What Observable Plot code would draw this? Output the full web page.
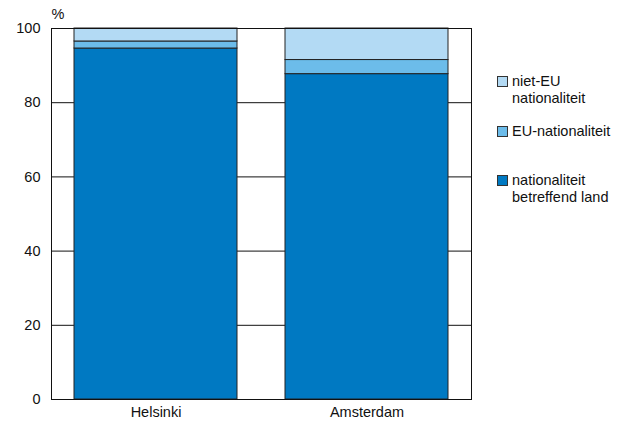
<!DOCTYPE html>
<html>
<head>
<meta charset="utf-8">
<script src="https://cdn.jsdelivr.net/npm/d3@7"></script>
<script src="https://cdn.jsdelivr.net/npm/@observablehq/plot@0.6"></script>
<style>
  html, body { margin: 0; padding: 0; background: #fff; }
  #wrap { position: relative; width: 630px; height: 426px; font-family: "Liberation Sans", Arial, sans-serif; }
  .leg { position: absolute; left: 497px; font-size: 14.5px; color: #111; line-height: 17px; }
  .sw { position: absolute; left: 0; width: 9px; height: 9px; border: 1px solid #333; }
  .lt { position: absolute; left: 15px; white-space: nowrap; }
</style>
</head>
<body>
<div id="wrap"></div>
<script>
const cities = ["Helsinki", "Amsterdam"];
const series = ["nationaliteit betreffend land", "EU-nationaliteit", "niet-EU nationaliteit"];
const nationaal = [94.6, 87.7];
const eu = [1.9, 3.8];
const nietEu = [3.5, 8.5];
const colors = ["#0079C2", "#6CBCEA", "#B3DAF4"];
const yTicks = [0, 20, 40, 60, 80, 100];
const legendLabels = [["niet-EU", "nationaliteit"], ["EU-nationaliteit"], ["nationaliteit", "betreffend land"]];
const legendColors = [colors[2], colors[1], colors[0]];

const rows = [];
cities.forEach((c, i) => {
  rows.push({city: c, serie: series[0], value: nationaal[i]});
  rows.push({city: c, serie: series[1], value: eu[i]});
  rows.push({city: c, serie: series[2], value: nietEu[i]});
});

const chart = Plot.plot({
  width: 630,
  height: 426,
  marginLeft: 51,
  marginRight: 159,
  marginTop: 28,
  marginBottom: 27,
  style: {fontFamily: "Liberation Sans, Arial, sans-serif", fontSize: "14.5px", color: "#111", background: "#fff"},
  x: {domain: cities, paddingInner: 0.2286, paddingOuter: 0.1095, label: null, tickSize: 0, tickPadding: 7},
  y: {domain: [0, 100], ticks: yTicks, label: null, tickSize: 0, tickPadding: 11},
  color: {domain: series, range: colors},
  marks: [
    Plot.ruleY([20, 40, 60, 80], {stroke: "#111", strokeWidth: 1}),
    Plot.barY(rows, {x: "city", y: "value", fill: "serie", order: series, stroke: "#222", strokeWidth: 1, inset: 0}),
    Plot.frame({stroke: "#111", strokeWidth: 1}),
    Plot.text(["%"], {frameAnchor: "top-left", dx: 0, dy: -20, textAnchor: "start", lineAnchor: "top"})
  ]
});

const wrap = document.getElementById("wrap");
wrap.appendChild(chart);

const tops = [73, 123, 172];
legendLabels.forEach((lines, i) => {
  const item = document.createElement("div");
  item.className = "leg";
  item.style.top = tops[i] + "px";
  const sw = document.createElement("div");
  sw.className = "sw";
  sw.style.background = legendColors[i];
  sw.style.top = "3px";
  item.appendChild(sw);
  const t = document.createElement("div");
  t.className = "lt";
  t.innerHTML = lines.join("<br>");
  item.appendChild(t);
  wrap.appendChild(item);
});
chart.style.position = "absolute";
chart.style.left = "0";
chart.style.top = "0";
</script>
</body>
</html>
